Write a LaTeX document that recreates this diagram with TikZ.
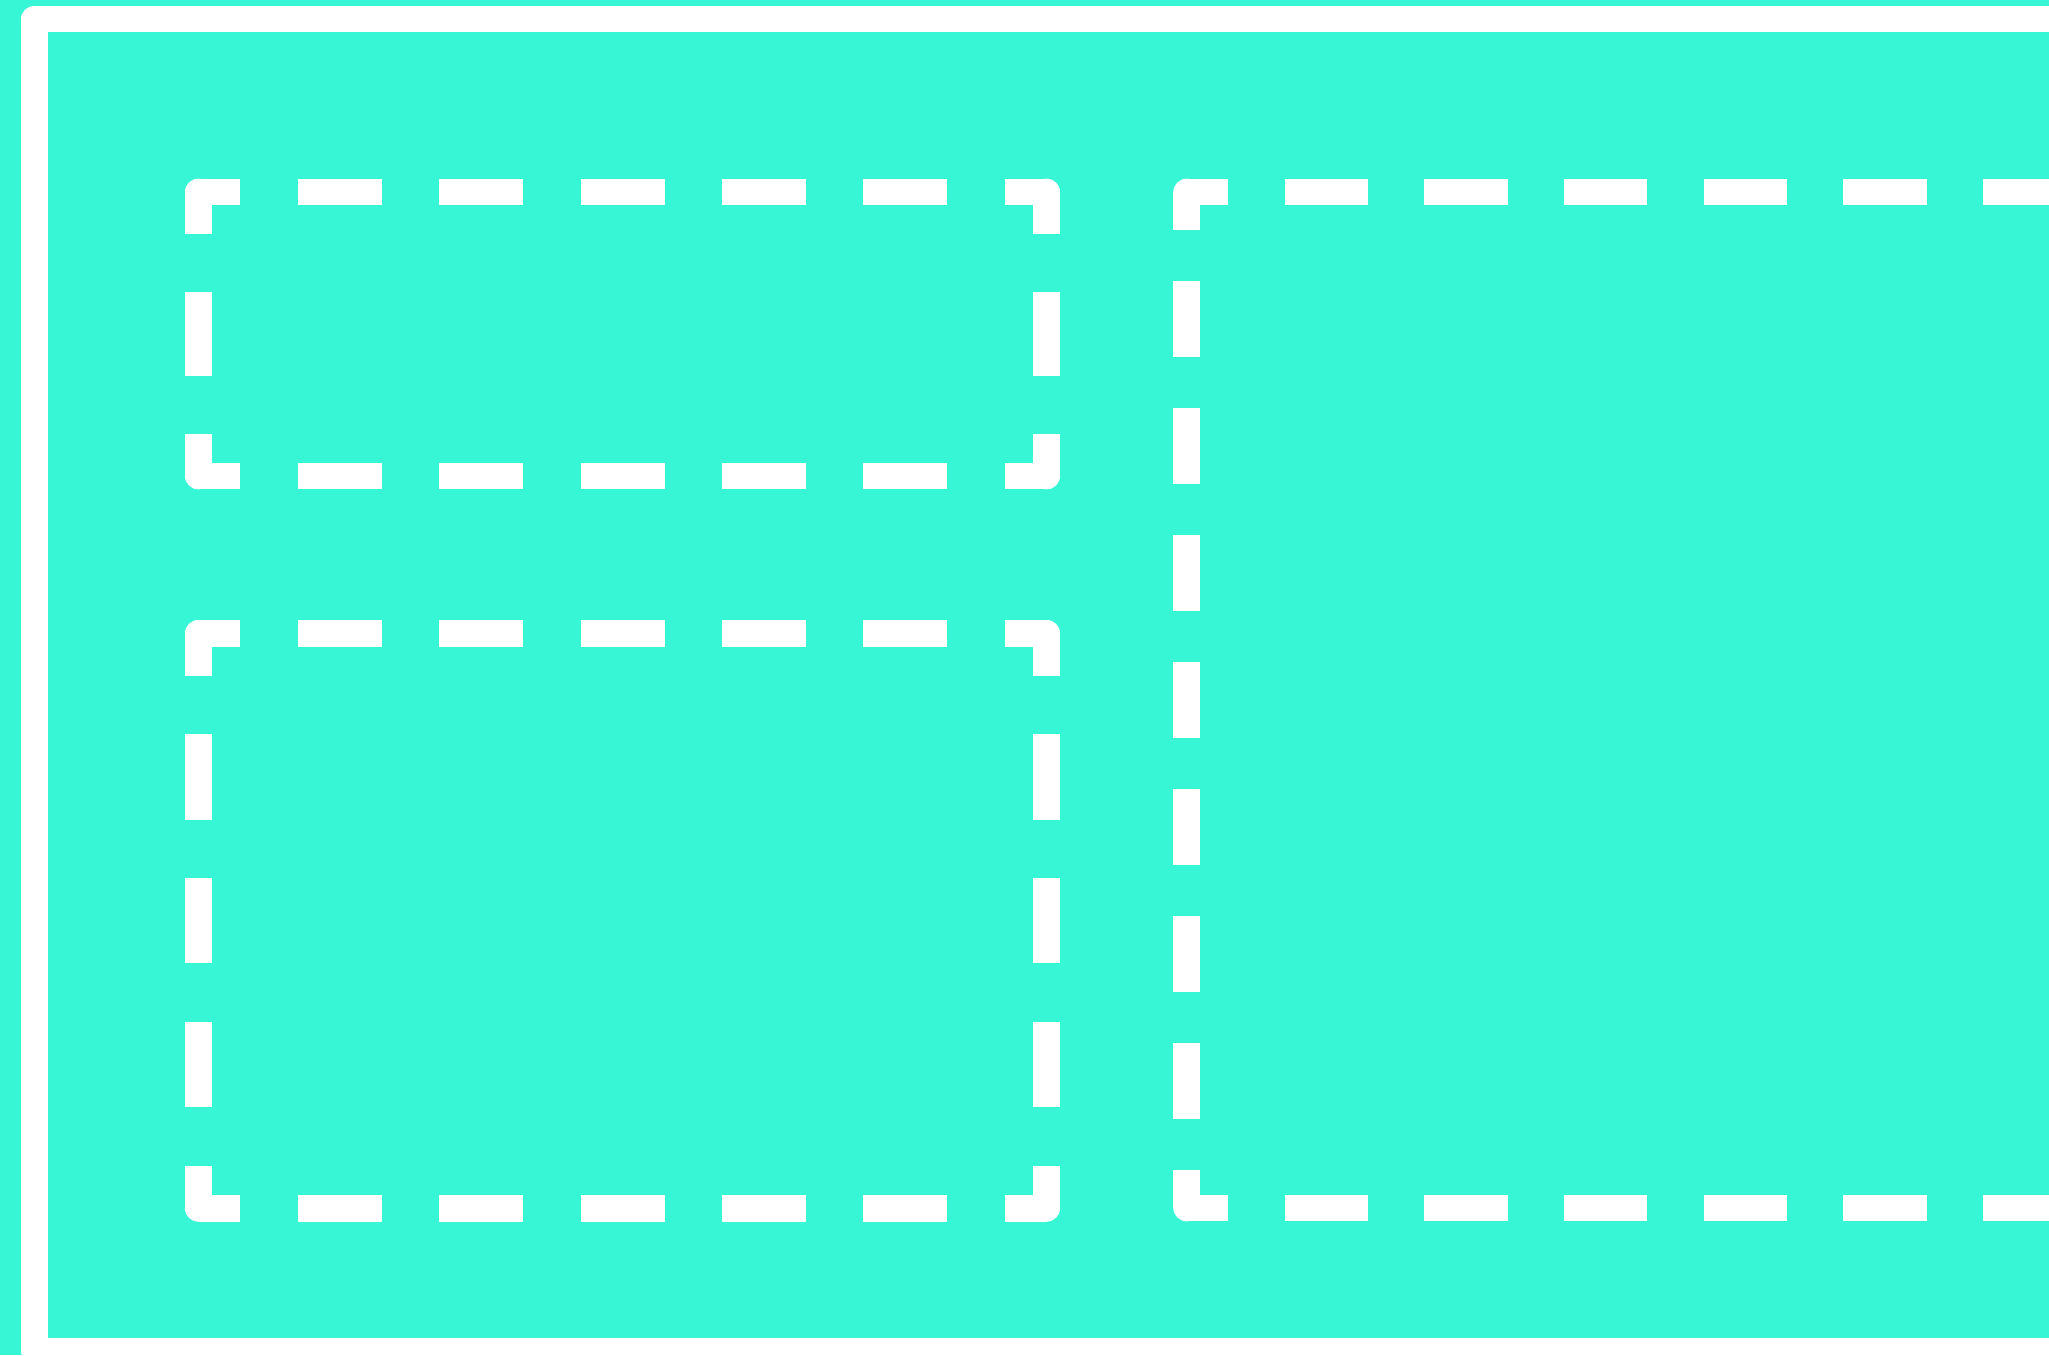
\documentclass[tikz,border=0pt]{standalone}
\definecolor{aqua}{RGB}{54,246,214}
\begin{document}
\begin{tikzpicture}[
    x=1pt, y=-1pt,
    stroke/.style={draw=white, line width=26.7pt},
    frame/.style={stroke, line join=round},
    dashside/.style n args={3}{stroke, dash pattern=on #1pt off #2pt, dash phase=#3pt},
    hside/.style={dashside={84}{57.4}{42}},
    corner/.style={fill=white}
]
\useasboundingbox (0,0) rectangle (2049,1355);
\clip (0,0) rectangle (2049,1355);
\fill[aqua] (0,0) rectangle (2049,1355);

% Outer frame
\coordinate (fne) at (2100,19);
\coordinate (fnw) at (34.3,19);
\coordinate (fsw) at (34.3,1351);
\coordinate (fse) at (2100,1351);
\draw[frame] (fne) -- (fnw) -- (fsw) -- (fse);

% Upper left box
\coordinate (anw) at (198.3,192);
\coordinate (ane) at (1046.7,192);
\coordinate (ase) at (1046.7,476);
\coordinate (asw) at (198.3,476);
\draw[hside] (anw) -- (ane);
\draw[hside] (asw) -- (ase);
\draw[dashside={84.6}{57.4}{42.3}] (anw) -- (asw);
\draw[dashside={84.6}{57.4}{42.3}] (ane) -- (ase);

% Lower left box
\coordinate (bnw) at (198.3,633.3);
\coordinate (bne) at (1046.7,633.3);
\coordinate (bse) at (1046.7,1208.3);
\coordinate (bsw) at (198.3,1208.3);
\draw[hside] (bnw) -- (bne);
\draw[hside] (bsw) -- (bse);
\draw[dashside={85.2}{58.55}{42.6}] (bnw) -- (bsw);
\draw[dashside={85.2}{58.55}{42.6}] (bne) -- (bse);

% Right box
\coordinate (cnw) at (1186.7,192);
\coordinate (cne) at (2164.3,192);
\coordinate (cse) at (2164.3,1208);
\coordinate (csw) at (1186.7,1208);
\draw[dashside={83.3}{56.36}{41.65}] (cnw) -- (cne);
\draw[dashside={83.3}{56.36}{41.65}] (csw) -- (cse);
\draw[dashside={76.7}{50.3}{38.35}] (cnw) -- (csw);

% Rounded outer corners
\foreach \c in {anw,ane,ase,asw,bnw,bne,bse,bsw,cnw,csw}
  \fill[corner] (\c) circle (13.35pt);

\end{tikzpicture}
\end{document}
